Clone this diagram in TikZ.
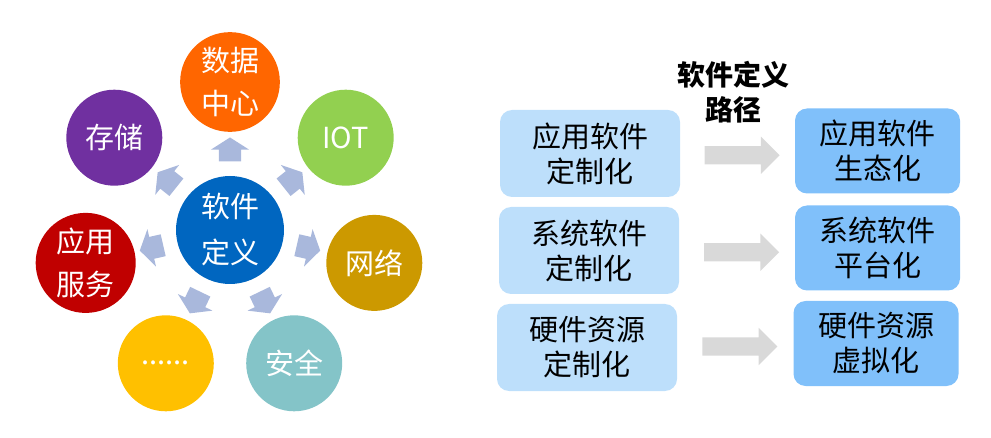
\documentclass[tikz,border=0pt]{standalone}
\usepackage{fontspec}
\setmainfont{Noto Sans CJK SC}
\usepackage{tikz}
\usetikzlibrary{shapes.arrows,calc}

\definecolor{sdblue}{HTML}{0066C0}
\definecolor{dcorange}{HTML}{FF6600}
\definecolor{iotgreen}{HTML}{92D050}
\definecolor{netgold}{HTML}{CC9900}
\definecolor{secteal}{HTML}{84C4C8}
\definecolor{moreyellow}{HTML}{FFC000}
\definecolor{appred}{HTML}{C00000}
\definecolor{storpurple}{HTML}{7030A0}
\definecolor{ringarrow}{HTML}{A9B8DC}
\definecolor{pathgray}{HTML}{D9D9D9}
\definecolor{custbox}{HTML}{BDDFFB}
\definecolor{platbox}{HTML}{80C0FA}

\begin{document}
\begin{tikzpicture}[x=1pt,y=-1pt]
    \useasboundingbox (0,0) rectangle (991,438);

    \node[circle,fill=sdblue,text=white,minimum size=108pt,align=center,
          font=\fontsize{29}{46}\selectfont] (sd) at (230,230) {软件\\定义};

    \begin{scope}[every node/.style={circle,minimum size=96pt,text=white,align=center,
                  font=\fontsize{29}{43}\selectfont}]
        \node[fill=dcorange] (dc) at (230,82) {数据\\中心};
        \node[fill=iotgreen] (iot) at (345.7,137.7) {IOT};
        \node[fill=netgold] (net) at (374.3,262.9) {网络};
        \node[fill=secteal] (sec) at (294.2,363.3) {安全};
        \node[fill=moreyellow] (more) at (165.8,363.3) {......};
        \node[fill=appred] (app) at (85.7,262.9) {应用\\服务};
        \node[fill=storpurple] (stor) at (114.3,137.7) {存储};
    \end{scope}

    \begin{scope}[every node/.style={single arrow,fill=ringarrow,inner xsep=0pt,inner ysep=11pt,
                  minimum height=24pt,single arrow head extend=8pt,
                  single arrow tip angle=115}]
        \node[rotate=90] (a1) at ($(sd)!0.52!(dc)$) {};
        \node[rotate=38.6] (a2) at ($(sd)!0.52!(iot)$) {};
        \node[rotate=-12.9] (a3) at ($(sd)!0.52!(net)$) {};
        \node[rotate=-64.3] (a4) at ($(sd)!0.52!(sec)$) {};
        \node[rotate=-115.7] (a5) at ($(sd)!0.52!(more)$) {};
        \node[rotate=-167.1] (a6) at ($(sd)!0.52!(app)$) {};
        \node[rotate=141.4] (a7) at ($(sd)!0.52!(stor)$) {};
    \end{scope}

    \node[align=center,font=\bfseries\fontsize{28}{35}\selectfont] (title) at (733,92) {软件定义\\路径};

    \begin{scope}[every node/.style={rounded corners=12pt,align=center,
                  font=\fontsize{29}{35}\selectfont}]
        \node[fill=custbox,minimum width=180pt,minimum height=87pt] (l1) at (590,153.5) {应用软件\\定制化};
        \node[fill=custbox,minimum width=180pt,minimum height=87pt] (l2) at (589,250.5) {系统软件\\定制化};
        \node[fill=custbox,minimum width=180pt,minimum height=87pt] (l3) at (587,347.5) {硬件资源\\定制化};
        \node[fill=platbox,minimum width=165pt,minimum height=85pt] (r1) at (877.5,151) {应用软件\\生态化};
        \node[fill=platbox,minimum width=165pt,minimum height=85pt] (r2) at (877.5,248) {系统软件\\平台化};
        \node[fill=platbox,minimum width=165pt,minimum height=85pt] (r3) at (876,343.5) {硬件资源\\虚拟化};
    \end{scope}

    \begin{scope}[every node/.style={single arrow,fill=pathgray,inner xsep=0pt,inner ysep=9pt,
                  minimum height=75pt,single arrow head extend=9.5pt}]
        \node[yshift=-3pt] (p1) at ($(l1.east)!0.5!(r1.west)$) {};
        \node[yshift=-3pt] (p2) at ($(l2.east)!0.5!(r2.west)$) {};
        \node[yshift=-1pt] (p3) at ($(l3.east)!0.5!(r3.west)$) {};
    \end{scope}
\end{tikzpicture}
\end{document}
